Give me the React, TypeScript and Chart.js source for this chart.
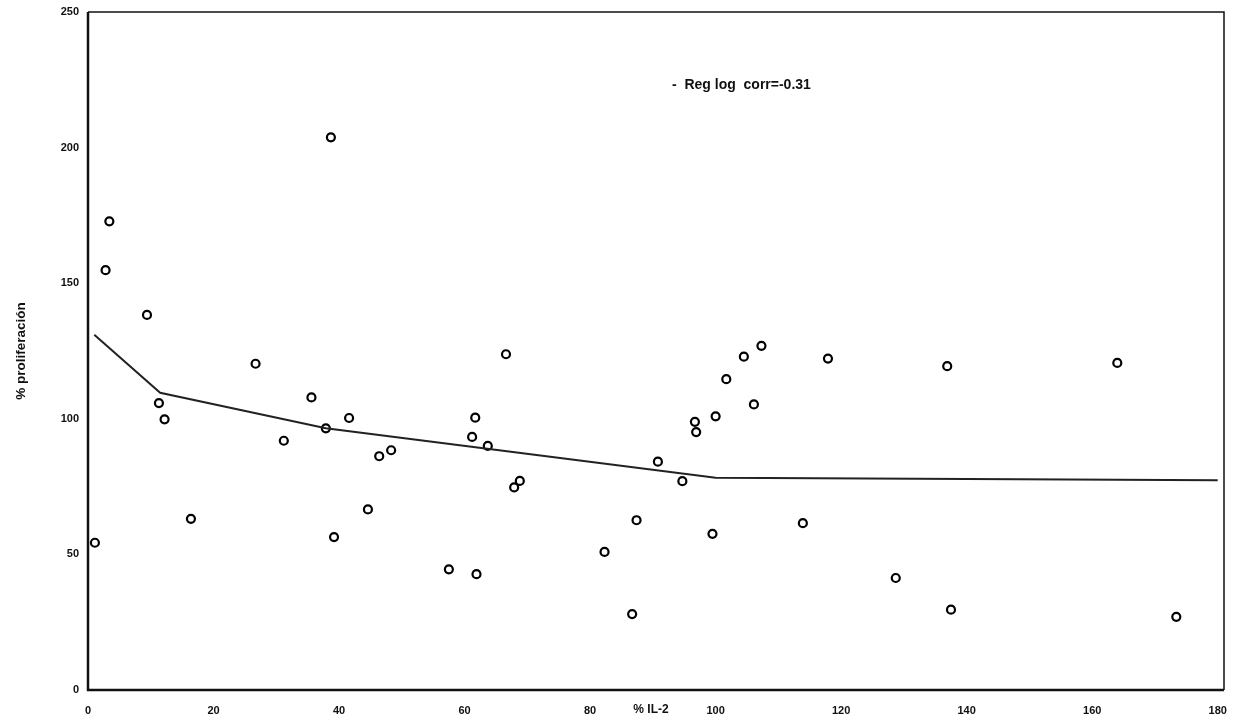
import React, { useEffect, useRef } from "react";
import { Chart, registerables } from "chart.js";

Chart.register(...registerables);

// Scatter data: % IL-2 (x) vs % proliferación (y)
const il2Values = [
  1.1, 2.8, 3.4, 9.4, 11.3, 12.2, 16.4, 26.7, 31.2, 35.6, 37.9, 38.7, 39.2, 41.6, 44.6,
  46.4, 48.3, 57.5, 61.2, 61.7, 61.9, 63.7, 66.6, 67.9, 68.8, 82.3, 86.7, 87.4, 90.8,
  94.7, 96.7, 96.9, 99.5, 100.0, 101.7, 104.5, 106.1, 107.3, 113.9, 117.9, 128.7, 136.9,
  137.5, 164.0, 173.4,
];
const proliferationValues = [
  54.3, 154.8, 172.8, 138.3, 105.8, 99.8, 63.1, 120.3, 91.9, 107.9, 96.5, 203.8, 56.4,
  100.3, 66.6, 86.2, 88.4, 44.5, 93.3, 100.4, 42.7, 90.0, 123.8, 74.7, 77.1, 50.9, 28.0,
  62.6, 84.2, 77.0, 98.9, 95.1, 57.6, 100.9, 114.6, 122.9, 105.3, 126.9, 61.5, 122.2,
  41.3, 119.4, 29.6, 120.6, 27.0,
];

// Regression ("Reg log") line vertices
const regX = [1.0, 11.5, 37.9, 100.0, 180.0];
const regY = [131.0, 109.6, 96.5, 78.3, 77.3];

const yTicks = [0, 50, 100, 150, 200, 250];
const xTicks = [0, 20, 40, 60, 80, 100, 120, 140, 160, 180];

const legendText = "-  Reg log  corr=-0.31";
const xTitle = "% IL-2";
const yTitle = "% proliferación";

const FONT = "'Liberation Sans', Arial, sans-serif";

const annotations = {
  id: "annotations",
  afterDraw(chart: any) {
    const { ctx, chartArea, scales } = chart;
    ctx.save();
    // frame
    ctx.strokeStyle = "#111";
    ctx.lineWidth = 1.5;
    ctx.beginPath();
    ctx.moveTo(chartArea.left, chartArea.top);
    ctx.lineTo(chartArea.right, chartArea.top);
    ctx.lineTo(chartArea.right, chartArea.bottom);
    ctx.stroke();
    ctx.lineWidth = 2.5;
    ctx.beginPath();
    ctx.moveTo(chartArea.left, chartArea.top);
    ctx.lineTo(chartArea.left, chartArea.bottom);
    ctx.lineTo(chartArea.right, chartArea.bottom);
    ctx.stroke();

    ctx.fillStyle = "#111";
    // legend text
    ctx.font = `bold 14px ${FONT}`;
    ctx.textAlign = "left";
    ctx.textBaseline = "middle";
    ctx.fillText(legendText, 672, 85);

    // x title placed between the 80 and 100 tick labels
    ctx.font = `bold 12px ${FONT}`;
    ctx.textAlign = "center";
    ctx.fillText(xTitle, 651, scales.x.bottom - 9);

    // y title
    ctx.font = `bold 13.5px ${FONT}`;
    ctx.translate(21, (chartArea.top + chartArea.bottom) / 2);
    ctx.rotate(-Math.PI / 2);
    ctx.textAlign = "center";
    ctx.fillText(yTitle, 0, 0);
    ctx.restore();
  },
};

export default function App() {
  const ref = useRef<HTMLCanvasElement | null>(null);

  useEffect(() => {
    if (!ref.current) return;
    const points = il2Values.map((x, i) => ({ x, y: proliferationValues[i] }));
    const reg = regX.map((x, i) => ({ x, y: regY[i] }));
    const chart = new Chart(ref.current, {
      type: "scatter",
      data: {
        datasets: [
          {
            type: "line",
            label: "Reg log",
            data: reg,
            borderColor: "#222",
            borderWidth: 2,
            pointRadius: 0,
            fill: false,
            tension: 0,
          },
          {
            label: "% proliferación",
            data: points,
            pointRadius: 4,
            pointBorderWidth: 2.2,
            pointBorderColor: "#000",
            pointBackgroundColor: "rgba(0,0,0,0)",
            borderColor: "#000",
            backgroundColor: "rgba(0,0,0,0)",
          },
        ],
      },
      options: {
        animation: false,
        responsive: true,
        maintainAspectRatio: false,
        layout: { padding: { top: 12, right: 15, left: 0, bottom: 0 } },
        plugins: {
          legend: { display: false },
          tooltip: { enabled: false },
          title: { display: false },
        },
        scales: {
          x: {
            type: "linear",
            min: 0,
            max: 181,
            grid: { display: false, drawTicks: false },
            border: { display: false },
            afterFit: (s: any) => {
              s.height = 29;
              s.paddingLeft = 0;
              s.paddingRight = 0;
            },
            afterBuildTicks: (s: any) => {
              s.ticks = xTicks.map((v) => ({ value: v }));
            },
            ticks: {
              color: "#111",
              padding: 14,
              maxRotation: 0,
              autoSkip: false,
              font: { family: FONT, size: 11, weight: "bold" },
            },
          },
          y: {
            type: "linear",
            min: 0,
            max: 250,
            grid: { display: false, drawTicks: false },
            border: { display: false },
            afterFit: (s: any) => {
              s.width = 88;
              s.paddingTop = 0;
              s.paddingBottom = 0;
            },
            afterBuildTicks: (s: any) => {
              s.ticks = yTicks.map((v) => ({ value: v }));
            },
            ticks: {
              color: "#111",
              padding: 9,
              font: { family: FONT, size: 11, weight: "bold" },
            },
          },
        },
      },
      plugins: [annotations],
    });
    return () => chart.destroy();
  }, []);

  return (
    <div
      style={{
        position: "absolute",
        left: 0,
        top: 0,
        width: 1239,
        height: 719,
        background: "#fff",
      }}
    >
      <canvas ref={ref} />
    </div>
  );
}
